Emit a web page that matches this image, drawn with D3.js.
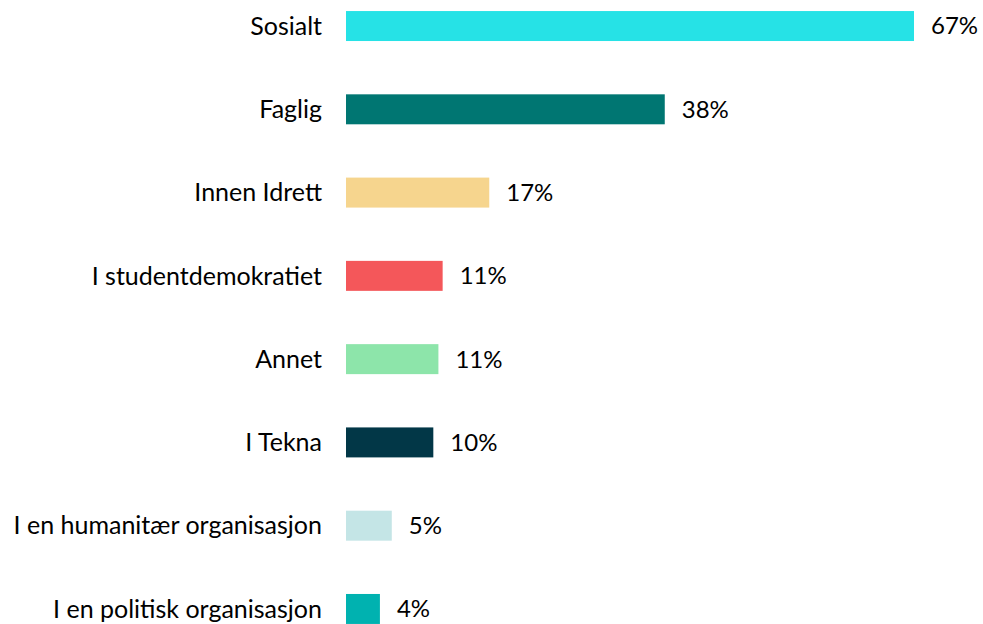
<!DOCTYPE html>
<html>
<head>
<meta charset="utf-8">
<script src="https://cdn.jsdelivr.net/npm/d3@7"></script>
<style>
	body { margin: 0; background: white; }
	text { font-family: Lato, "Open Sans", sans-serif; fill: #000; }
</style>
</head>
<body>
<script>
// categories, top to bottom
var categories = [
	'Sosialt',
	'Faglig',
	'Innen Idrett',
	'I studentdemokratiet',
	'Annet',
	'I Tekna',
	'I en humanitær organisasjon',
	'I en politisk organisasjon'
]

// share in percent (bar length)
var values = [67, 37.6, 16.9, 11.4, 10.9, 10.3, 5.4, 4.0]

// printed labels
var valueLabels = ['67%', '38%', '17%', '11%', '11%', '10%', '5%', '4%']

var colors = [
	'#26E2E6',
	'#007672',
	'#F6D58E',
	'#F4575A',
	'#8DE5AA',
	'#023747',
	'#C4E5E6',
	'#00B2B0'
]

var width = 983,
	height = 624

var data = categories.map((c, i) => ({ cat: c, val: values[i], label: valueLabels[i], color: colors[i] }))

var svg = d3.select('body').append('svg')
	.attr('width', width)
	.attr('height', height)

var x = d3.scaleLinear()
	.domain([0, 67])
	.range([346, 914])

var y = d3.scaleBand()
	.domain(categories)
	.range([-15.6, 650.6])
	.paddingInner(0.64)
	.paddingOuter(0.32)

svg.selectAll('rect')
	.data(data)
	.enter()
	.append('rect')
		.attr('x', x(0))
		.attr('y', d => y(d.cat))
		.attr('width', d => x(d.val) - x(0))
		.attr('height', y.bandwidth())
		.attr('fill', d => d.color)

// category labels on the left
svg.selectAll('.cat')
	.data(data)
	.enter()
	.append('text')
		.attr('class', 'cat')
		.attr('x', 322)
		.attr('y', d => y(d.cat) + y.bandwidth() / 2)
		.attr('dy', '0.35em')
		.attr('text-anchor', 'end')
		.style('font-size', '25px')
		.text(d => d.cat)

// value labels after the bars
svg.selectAll('.val')
	.data(data)
	.enter()
	.append('text')
		.attr('class', 'val')
		.attr('x', d => x(d.val) + 17)
		.attr('y', d => y(d.cat) + y.bandwidth() / 2)
		.attr('dy', '0.35em')
		.style('font-size', '24px')
		.text(d => d.label)
</script>
</body>
</html>
